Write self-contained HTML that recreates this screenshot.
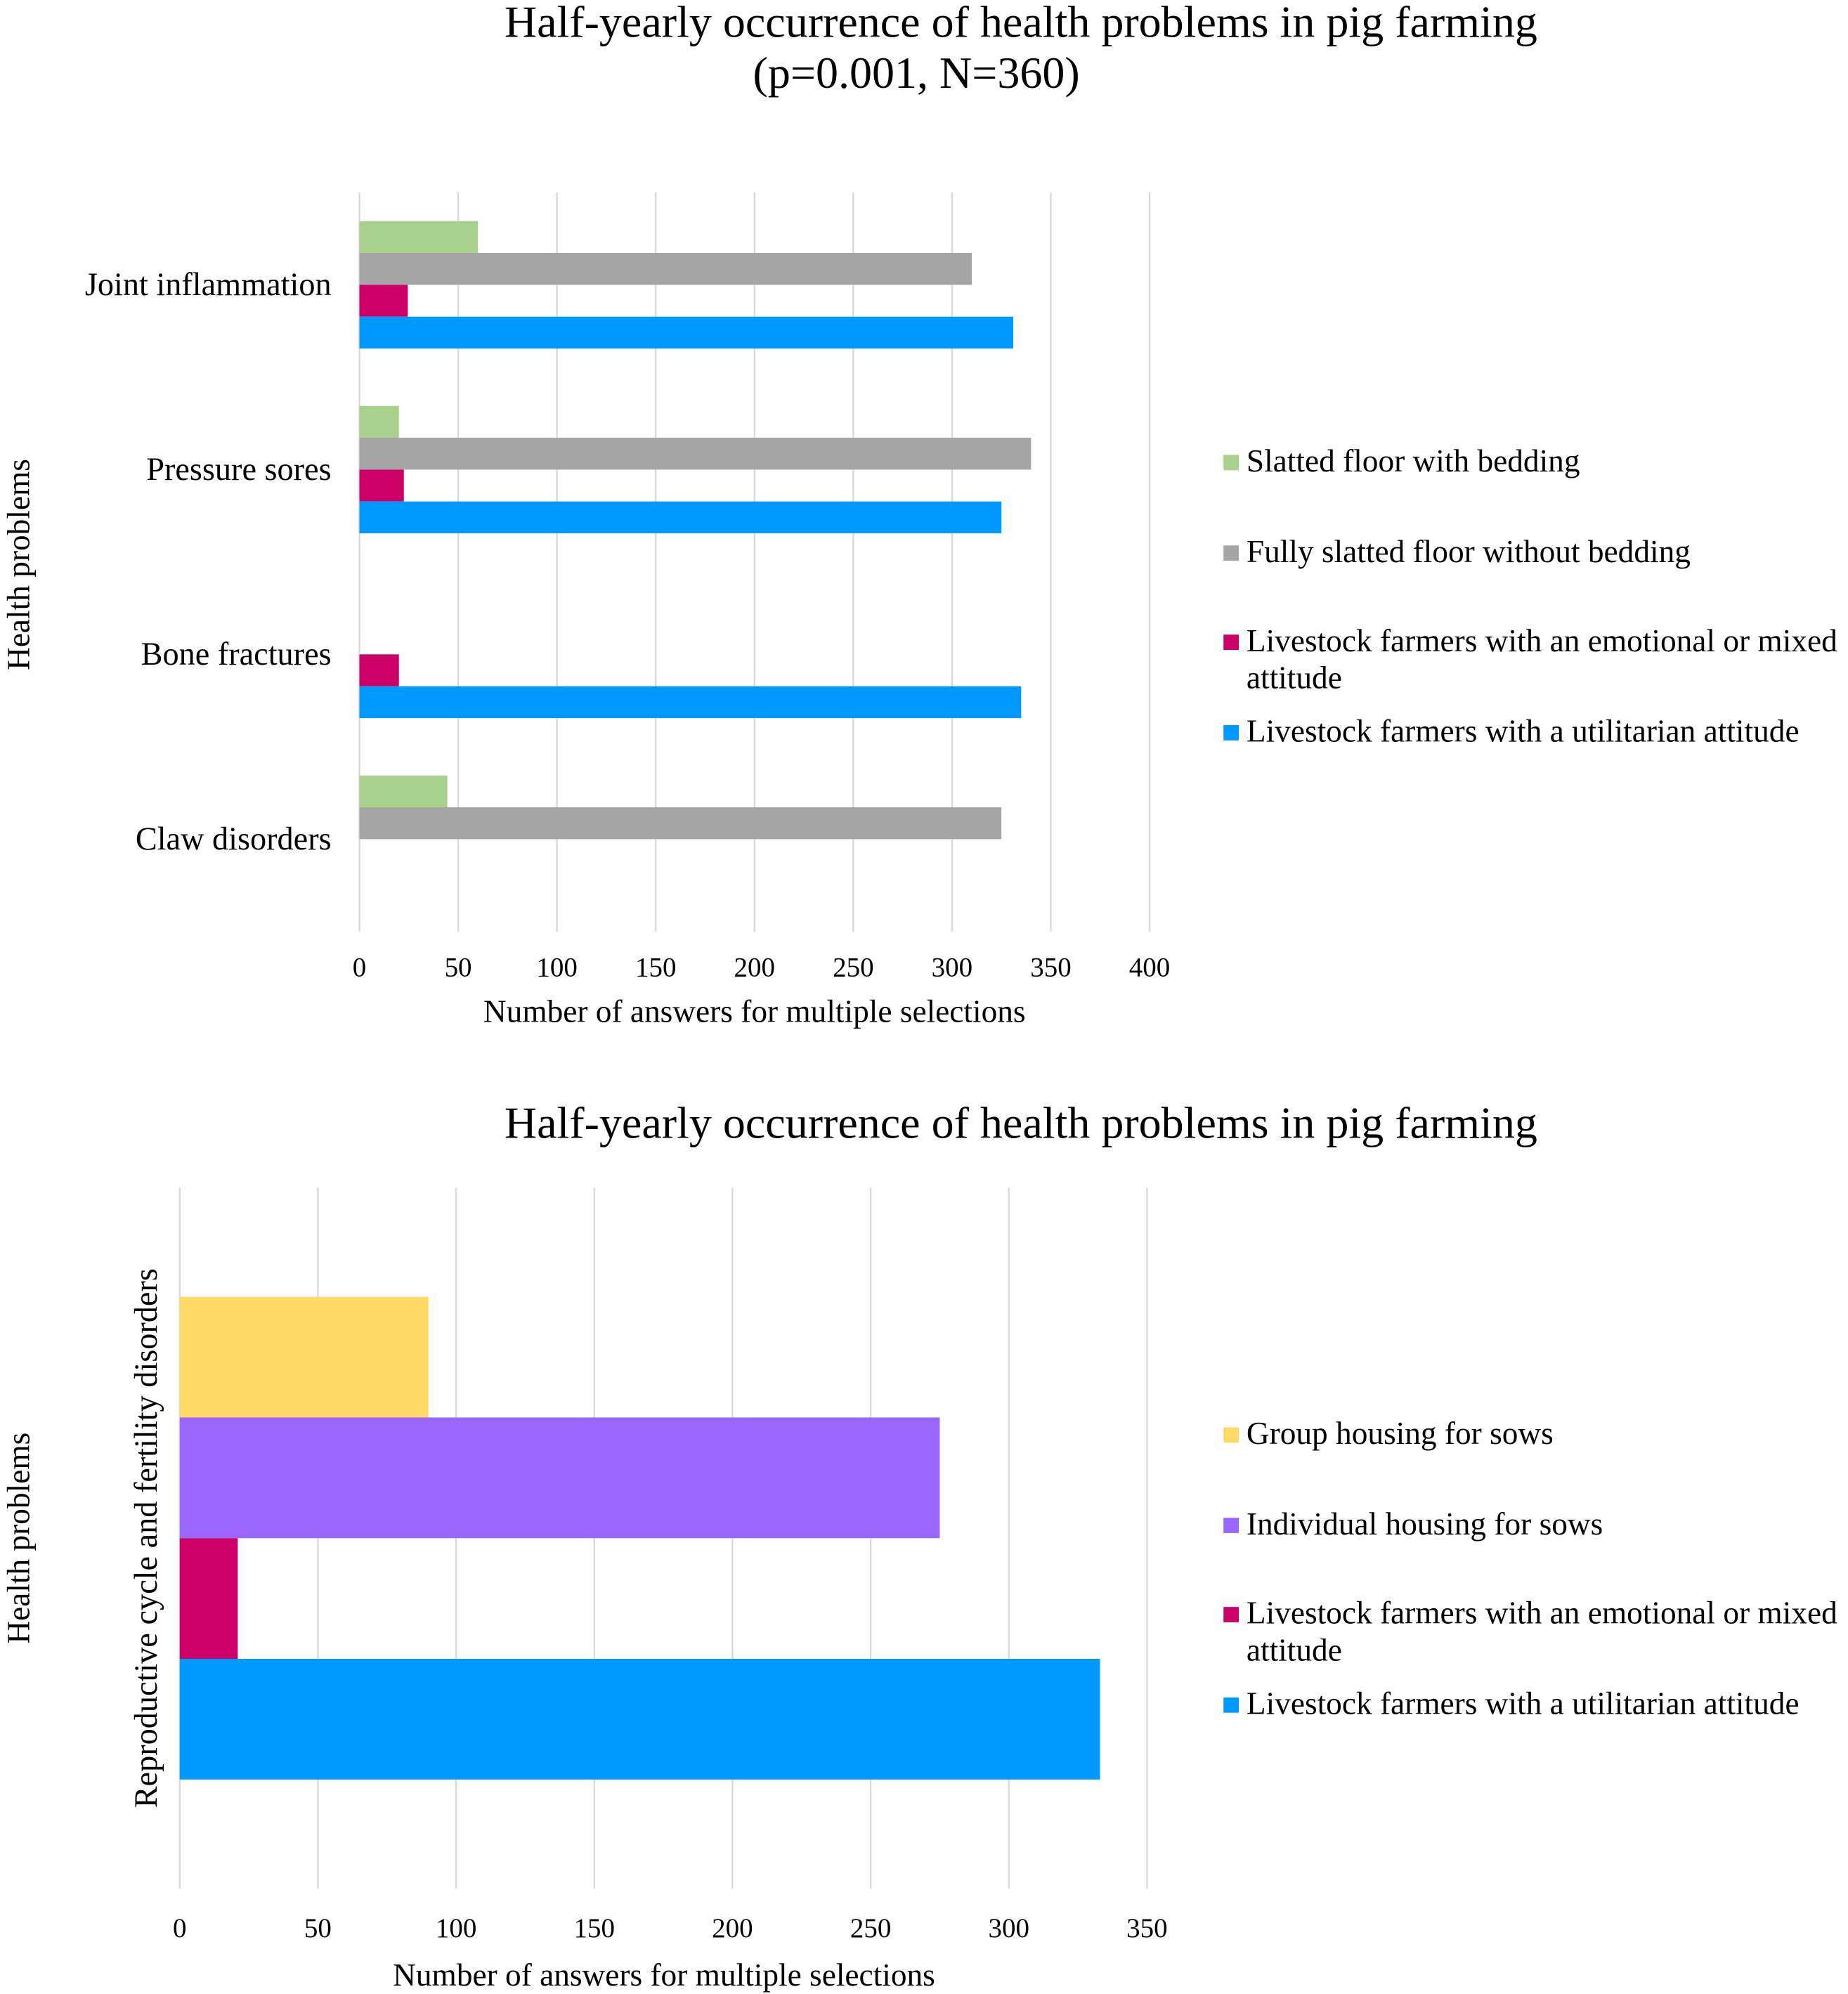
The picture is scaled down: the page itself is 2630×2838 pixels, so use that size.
<!DOCTYPE html>
<html><head><meta charset="utf-8"><style>
html,body{margin:0;padding:0;background:#fff;}
svg{display:block;font-family:"Liberation Serif",serif;}
</style></head><body>
<svg id="c" width="2630" height="2838" viewBox="0 0 1450 1564.7" xmlns="http://www.w3.org/2000/svg">
<rect width="1450" height="1565" fill="#fff"/>
<g id="top"></g>
<g id="bot"></g>
</svg>
<script>
// top chart data
const topCategories = ["Joint inflammation","Pressure sores","Bone fractures","Claw disorders"];
const topSeriesNames = ["Slatted floor with bedding","Fully slatted floor without bedding","Livestock farmers with an emotional or mixed attitude","Livestock farmers with a utilitarian attitude"];
const topSlatted = [60, 20, 0, 44.5];
const topFully = [310, 340, 0, 325];
const topEmotional = [24.5, 22.5, 20, 0];
const topUtilitarian = [331, 325, 335, 0];
const topTicks = [0,50,100,150,200,250,300,350,400];
// bottom chart data
const botCategories = ["Reproductive cycle and fertility disorders"];
const botSeriesNames = ["Group housing for sows","Individual housing for sows","Livestock farmers with an emotional or mixed attitude","Livestock farmers with a utilitarian attitude"];
const botGroup = [90];
const botIndividual = [275];
const botEmotional = [21];
const botUtilitarian = [333];
const botTicks = [0,50,100,150,200,250,300,350];

const NS="http://www.w3.org/2000/svg";
function mk(parent,tag,attrs,text){const e=document.createElementNS(NS,tag);for(const k in attrs)e.setAttribute(k,attrs[k]);if(text!==undefined)e.textContent=text;parent.appendChild(e);return e;}

function drawChart(g,o){
  const x=v=>o.x0+(v-o.min)/(o.max-o.min)*(o.x1-o.x0);
  o.ticks.forEach(t=>{
    const l=mk(g,'line',{x1:x(t),x2:x(t),y1:o.top,y2:o.bottom,stroke:'#d9d9d9','stroke-width':1.3});
    
    
    const tx=mk(g,'text',{x:x(t),y:o.tickY,'text-anchor':'middle','font-size':21.5,fill:'#000'},String(t));
    
    
  });
  const band=(o.bottom-o.top)/o.cats.length;
  o.cats.forEach((c,i)=>{
    const cy=o.top+band*(i+0.5);
    const start=cy-o.barH*o.series.length/2;
    o.series.forEach((s,j)=>{
      const v=s[i];
      if(v>0){
        const r=mk(g,'rect',{x:x(0),y:start+j*o.barH,width:x(v)-x(0),height:o.barH,fill:o.colors[j]});
        
        
      }
    });
    let t;
    if(o.rotCat){
      t=mk(g,'text',{x:0,y:0,transform:`translate(${o.catX},${cy}) rotate(-90)`,'text-anchor':'middle','font-size':25.5},c);
    } else {
      t=mk(g,'text',{x:o.catX,y:cy+8,'text-anchor':'end','font-size':25.5},c);
    }
    
    
  });
  const xt=mk(g,'text',{x:o.xTitleX,y:o.xTitleY,'text-anchor':'middle','font-size':25},'Number of answers for multiple selections');
  
  
  const yt=mk(g,'text',{x:0,y:0,transform:`translate(23,${o.yTitleY}) rotate(-90)`,'text-anchor':'middle','font-size':25},'Health problems');
  
  
  o.legend.forEach((L,j)=>{
    const r=mk(g,'rect',{x:960,y:L.y-13,width:12,height:12,fill:o.colors[j]});
    
    
    L.lines.forEach((ln,k)=>{
      const t=mk(g,'text',{x:978,y:L.y+k*29,'font-size':25},ln);
      
      
    });
  });
}
const gt=document.getElementById('top');
let t1=mk(gt,'text',{x:801,y:29,'text-anchor':'middle','font-size':35.3},'Half-yearly occurrence of health problems in pig farming');


let t2=mk(gt,'text',{x:719,y:69,'text-anchor':'middle','font-size':35.3},'(p=0.001, N=360)');


drawChart(gt,{x0:282,x1:902,min:0,max:400,top:151,bottom:731,ticks:topTicks,tickY:766,cats:topCategories,
  series:[topSlatted,topFully,topEmotional,topUtilitarian],colors:['#a9d18e','#a5a5a5','#cc0066','#0099ff'],barH:25,
  catX:260,rotCat:false,xTitleX:592,xTitleY:802,yTitleY:443,
  legend:[{y:370,lines:[topSeriesNames[0]]},{y:441,lines:[topSeriesNames[1]]},{y:511,lines:['Livestock farmers with an emotional or mixed','attitude']},{y:582,lines:[topSeriesNames[3]]}]});
const gb=document.getElementById('bot');
let t3=mk(gb,'text',{x:801,y:893,'text-anchor':'middle','font-size':35.3},'Half-yearly occurrence of health problems in pig farming');


drawChart(gb,{x0:141,x1:900,min:0,max:350,top:932,bottom:1482,ticks:botTicks,tickY:1520,cats:botCategories,
  series:[botGroup,botIndividual,botEmotional,botUtilitarian],colors:['#ffd966','#9966ff','#cc0066','#0099ff'],barH:94.7,
  catX:123,rotCat:true,xTitleX:521,xTitleY:1558,yTitleY:1207,
  legend:[{y:1133,lines:[botSeriesNames[0]]},{y:1204,lines:[botSeriesNames[1]]},{y:1274,lines:['Livestock farmers with an emotional or mixed','attitude']},{y:1345,lines:[botSeriesNames[3]]}]});
</script>
</body></html>
